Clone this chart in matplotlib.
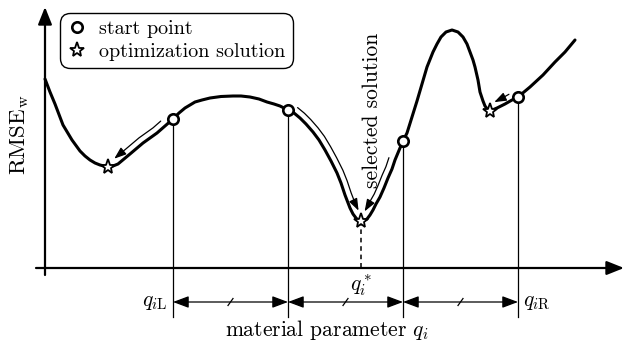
import numpy as np
import matplotlib
matplotlib.use("Agg")
import matplotlib.pyplot as plt
from matplotlib.patches import FancyArrowPatch
from matplotlib.path import Path

plt.rcParams['mathtext.fontset'] = 'cm'

# ---- data (schematic units: x = material parameter, y = RMSE_w) ----
curve_x = [0, 5, 10, 18, 27, 35, 40, 45, 50, 55, 59, 63, 68, 73, 85, 98, 112, 120, 128, 134, 140, 145,
           150, 157, 165, 176, 188, 196, 205, 214, 222, 229, 235, 243, 249, 255, 261, 268, 274, 280,
           286, 292, 296, 300, 305, 308, 311, 313, 316, 319, 322, 325, 328, 331, 335, 339, 343, 347,
           350, 355, 358, 362, 367, 372, 377, 382, 388, 392, 396, 401, 407, 413, 418, 422, 425, 428,
           430, 433, 435, 438, 440, 443, 445, 452, 460, 467, 473, 485, 498, 510, 520, 530]
curve_y = [189, 176, 164, 143, 128, 117, 112, 108, 105, 103, 102, 101, 102, 104, 114, 125, 135, 142, 149, 155,
           160, 163, 166, 168, 170, 171.5, 172, 172, 171, 169, 166, 164, 162, 158, 155, 150, 144, 136, 128, 118,
           107, 95, 85, 73, 60, 54, 50, 48, 47, 47.5, 49, 53, 58, 64, 71, 80, 90, 99,
           108, 120, 127, 135, 151, 167, 184, 201, 216, 224, 231, 236, 238, 236, 231, 224, 216, 208,
           201, 188, 176, 167, 162, 158, 157, 160, 164, 168, 171, 181, 193, 206, 216, 228]

start_x = [128, 243, 358, 473]          # start points
star_x = [63, 316, 445]                 # optimization solutions
selected_x = 316                        # selected solution q_i*
bound_labels = [r'$q_{i\mathrm{L}}$', r'$q_{i\mathrm{R}}$']
legend_labels = ['start point', 'optimization solution']

cx = np.array(curve_x, float)
cy = np.array(curve_y, float)

def idx(x):
    return int(np.argmin(np.abs(cx - x)))

fig = plt.figure(figsize=(6.25, 3.51), dpi=100)
ax = fig.add_axes([0, 0, 1, 1])
ax.set_xlim(-45, 580)
ax.set_ylim(-83, 268)
ax.axis('off')

FONT = 'cmr10'
FS = 15.5

# axes with arrows
ax.add_patch(FancyArrowPatch((-9, 0), (579, 0), arrowstyle='-|>,head_length=0.75,head_width=0.3',
                             mutation_scale=14, lw=1.6, color='black', shrinkA=0, shrinkB=0, zorder=3))
ax.add_patch(FancyArrowPatch((0, -7), (0, 261), arrowstyle='-|>,head_length=0.75,head_width=0.3',
                             mutation_scale=14, lw=1.6, color='black', shrinkA=0, shrinkB=0, zorder=3))

# curve
ax.plot(cx, cy, color='black', lw=2.2, solid_joinstyle='round', solid_capstyle='round', zorder=4)

# vertical lines from start points
for sx in start_x:
    ax.plot([sx, sx], [cy[idx(sx)], -49], color='black', lw=0.9, zorder=2)

# dashed line at selected solution
ax.plot([selected_x, selected_x], [cy[idx(selected_x)], 0], color='black', lw=1.1,
        ls=(0, (3, 2.5)), zorder=2)

# guide arrows parallel to the curve
tx = np.gradient(cx)
ty = np.gradient(cy)
nrm = np.hypot(tx, ty)
nx, ny = -ty / nrm, tx / nrm
off = 6.5
guides = [(128, 63, 10, 7), (243, 316, 6, 10), (358, 316, 8, 10), (473, 445, 6, 7)]
for s, e, ds, de in guides:
    i0, i1 = idx(s), idx(e)
    step = 1 if i1 > i0 else -1
    ids = [i for i in range(i0, i1 + step, step)
           if np.hypot(cx[i] - cx[i0], cy[i] - cy[i0]) >= ds
           and np.hypot(cx[i] - cx[i1], cy[i] - cy[i1]) >= de]
    px = cx[ids] + off * nx[ids]
    py = cy[ids] + off * ny[ids]
    path = Path(np.column_stack([px, py]))
    ax.add_patch(FancyArrowPatch(path=path, arrowstyle='-|>,head_length=0.6,head_width=0.22',
                                 mutation_scale=12, lw=0.9, color='black',
                                 shrinkA=0, shrinkB=0, zorder=3))

# markers
start_h, = ax.plot(start_x, [cy[idx(x)] for x in start_x], 'o', ms=7.5, mfc='white', mec='black',
                   mew=1.9, zorder=6, label=legend_labels[0])
star_h, = ax.plot(star_x, [cy[idx(x)] for x in star_x], '*', ms=11, mfc='white', mec='black',
                  mew=1.3, zorder=6, label=legend_labels[1])

# dimension arrows between bounds
dim_y = -34
for a, b in zip(start_x[:-1], start_x[1:]):
    ax.add_patch(FancyArrowPatch((a, dim_y), (b, dim_y), arrowstyle='<|-|>,head_length=0.8,head_width=0.3',
                                 mutation_scale=12, lw=0.9, color='black', shrinkA=0, shrinkB=0, zorder=3))
    m = (a + b) / 2
    ax.plot([m - 2.5, m + 2.5], [dim_y - 3.5, dim_y + 3.5], color='black', lw=0.9)

# texts
ax.text(start_x[0] - 5, dim_y, bound_labels[0], ha='right', va='center', fontsize=FS)
ax.text(start_x[-1] + 5, dim_y, bound_labels[1], ha='left', va='center', fontsize=FS)
ax.text(selected_x, -17, r'$q_i^*$', ha='center', va='center', fontsize=FS)
ax.text(282, -62, 'material parameter $q_i$', ha='center', va='center', fontsize=FS, family=FONT)
ax.text(-25, 133, r'RMSE$_\mathrm{w}$', rotation=90, ha='center', va='center', fontsize=FS + 1, family=FONT)
ax.text(327, 158, 'selected solution', rotation=90, ha='center', va='center', fontsize=FS, family=FONT)

leg = ax.legend(handles=[start_h, star_h], loc='upper left', bbox_to_anchor=(60 / 625, 1 - 13 / 351),
                borderaxespad=0, frameon=True, fancybox=True, framealpha=1, edgecolor='black',
                handlelength=1.0, handletextpad=0.6, borderpad=0.35, labelspacing=0.25,
                prop={'family': FONT, 'size': 14.5})
leg.get_frame().set_linewidth(1.0)
leg.get_frame().set_boxstyle('round,pad=0,rounding_size=0.5')

fig.savefig('out.png', dpi=100)
